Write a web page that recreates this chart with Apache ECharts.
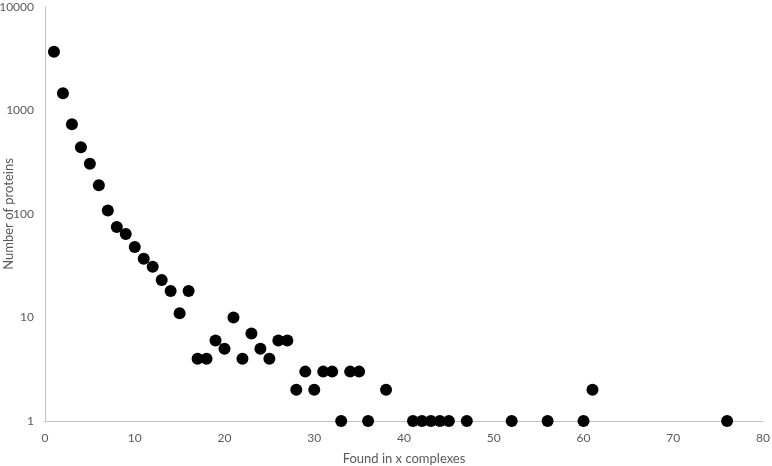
<!DOCTYPE html>
<html>
<head>
<meta charset="utf-8">
<script src="https://cdn.jsdelivr.net/npm/echarts@6/dist/echarts.min.js"></script>
<style>
  html, body { margin: 0; padding: 0; background: #fff; }
  #show_picture { width: 772px; height: 466px; }
</style>
</head>
<body>
<div id="show_picture"></div>
<script>
// x = number of complexes a protein is found in, y = number of proteins
const complexes = [1, 2, 3, 4, 5, 6, 7, 8, 9, 10, 11, 12, 13, 14, 15, 16, 17, 18, 19, 20,
    21, 22, 23, 24, 25, 26, 27, 28, 29, 30, 31, 32, 33, 34, 35, 36, 38,
    41, 42, 43, 44, 45, 47, 52, 56, 60, 61, 76];
const proteins = [3700, 1465, 736, 442, 306, 190, 108, 75, 64, 48, 37, 31, 23, 18, 11, 18, 4, 4, 6, 5,
    10, 4, 7, 5, 4, 6, 6, 2, 3, 2, 3, 3, 1, 3, 3, 1, 2,
    1, 1, 1, 1, 1, 1, 1, 1, 1, 2, 1];

let myChart = echarts.init(document.getElementById('show_picture'));

let d = complexes.map((x, i) => [x, proteins[i]]);

const textCol = '#595959';
const font = 'Lato';

let option = {
    animation: false,
    grid: { left: 45, right: 9, top: 7, bottom: 45, containLabel: false, outerBoundsMode: 'none' },
    xAxis: {
        type: 'value',
        min: 0,
        max: 80,
        interval: 10,
        name: 'Found in x complexes',
        nameLocation: 'middle',
        nameGap: 31,
        nameMoveOverlap: false,
        nameTextStyle: { color: textCol, fontFamily: font, fontSize: 13 },
        axisLine: { lineStyle: { color: '#bfbfbf' } },
        axisTick: { show: false },
        axisLabel: { color: textCol, fontFamily: font, fontSize: 12, margin: 11 },
        splitLine: { show: false }
    },
    yAxis: {
        type: 'log',
        logBase: 10,
        min: 1,
        max: 10000,
        name: 'Number of proteins',
        nameLocation: 'middle',
        nameGap: 30,
        nameMoveOverlap: false,
        nameTextStyle: { color: textCol, fontFamily: font, fontSize: 13 },
        axisLine: { show: true, lineStyle: { color: '#bfbfbf' } },
        axisTick: { show: false },
        axisLabel: { color: textCol, fontFamily: font, fontSize: 12, margin: 11,
            formatter: v => String(Math.round(v)) },
        splitLine: { show: false }
    },
    series: [
        {
            type: 'scatter',
            data: d,
            symbolSize: 12,
            itemStyle: { color: '#000', opacity: 1 }
        }
    ]
};

option && myChart.setOption(option);
</script>
</body>
</html>
